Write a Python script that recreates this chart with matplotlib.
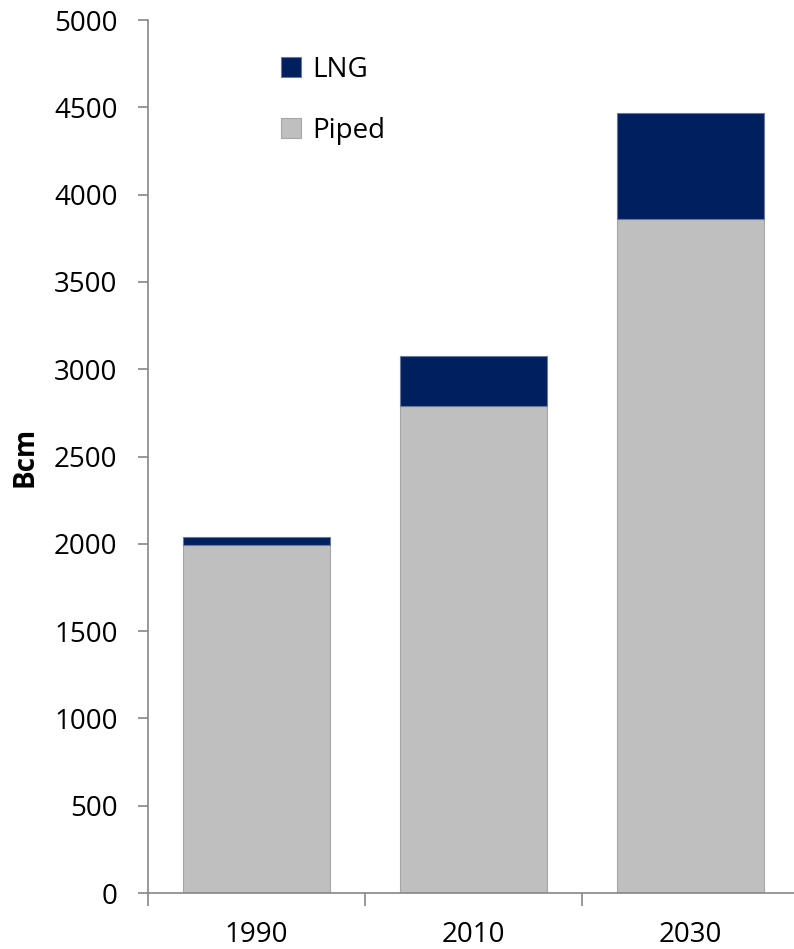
import numpy as np
import matplotlib
matplotlib.use("Agg")
import matplotlib.pyplot as plt

# Gas trade volumes, Bcm
years = ["1990", "2010", "2030"]
piped = [1995, 2787, 3858]
lng = [42, 287, 611]

plt.rcParams['font.family'] = ['Open Sans', 'DejaVu Sans']

fig = plt.figure(figsize=(7.94, 9.49), dpi=100)
ax = fig.add_axes([148 / 794, 1 - 893 / 949, 651 / 794, 873 / 949])

x = np.arange(len(years))
width = 0.673
b_piped = ax.bar(x, piped, width, color='#bfbfbf', edgecolor='#a6a6a6', linewidth=0.8, label='Piped')
b_lng = ax.bar(x, lng, width, bottom=piped, color='#001f5f', edgecolor='#6d7a96', linewidth=0.8, label='LNG')

ax.set_xlim(-0.5, 2.5)
ax.set_ylim(0, 5000)
ax.set_yticks(np.arange(0, 5001, 500))

# category boundaries carry the tick marks, labels sit at the centres
ax.set_xticks([-0.5, 0.5, 1.5, 2.5])
ax.set_xticklabels([])
ax.set_xticks(x, minor=True)
ax.set_xticklabels(years, minor=True)
ax.tick_params(axis='x', which='major', length=9, width=1.2, color='#868686', direction='out')
ax.tick_params(axis='x', which='minor', length=0, pad=20, labelsize=20)
ax.tick_params(axis='y', length=7, width=1.2, color='#868686', direction='out', pad=15, labelsize=20)

for side in ['top', 'right']:
    ax.spines[side].set_visible(False)
for side in ['left', 'bottom']:
    ax.spines[side].set_color('#868686')
    ax.spines[side].set_linewidth(1.2)

ax.set_ylabel('Bcm', fontsize=20, fontweight='bold')
ax.yaxis.set_label_coords(-0.167, 0.5)

ax.legend([b_lng, b_piped], ['LNG', 'Piped'], loc='upper left',
          bbox_to_anchor=(281 / 794, 1 - 56 / 949), bbox_transform=fig.transFigure,
          frameon=False, fontsize=20, handlelength=0.72, handleheight=0.72,
          handletextpad=0.4, labelspacing=1.18, borderpad=0, borderaxespad=0)

fig.savefig('out.png', dpi=100)
